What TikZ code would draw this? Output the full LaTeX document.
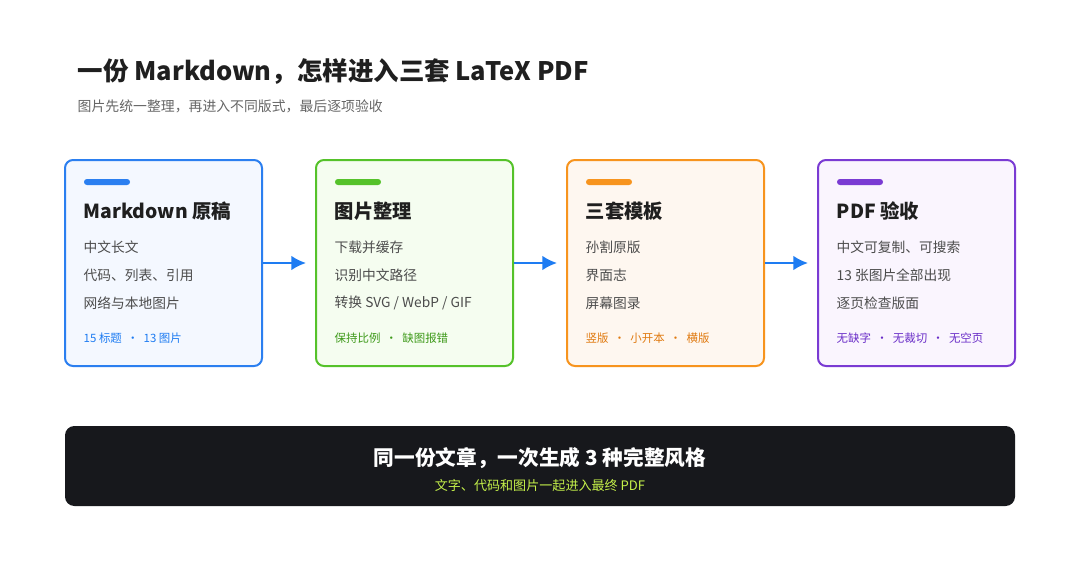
\documentclass[tikz,border=0pt]{standalone}
\usepackage{fontspec}
\usetikzlibrary{arrows.meta}
\setmainfont{Noto Sans CJK SC}
\begin{document}
\begin{tikzpicture}[x=0.75pt,y=-0.75pt,
  card/.style={draw=#1,line width=1.5pt,rounded corners=6pt},
  bar/.style={fill=#1,rounded corners=2.2pt},
  ctitle/.style={anchor=west,font=\bfseries\fontsize{14.5}{18}\selectfont,text=black!88},
  item/.style={anchor=west,font=\fontsize{10.3}{12}\selectfont,text=black!70},
  tag/.style={anchor=west,font=\fontsize{8.6}{10}\selectfont,text=#1},
  arr/.style={draw=arrowblue,line width=1.6pt,-{Latex[length=11pt,width=11pt]}}]
\definecolor{cb}{HTML}{2B7FF0}\definecolor{cbf}{HTML}{F4F8FF}
\definecolor{cg}{HTML}{55C22A}\definecolor{cgf}{HTML}{F5FDF0}
\definecolor{co}{HTML}{F7941E}\definecolor{cof}{HTML}{FEF7F0}
\definecolor{cp}{HTML}{7A3BD3}\definecolor{cpf}{HTML}{FAF5FE}
\definecolor{arrowblue}{HTML}{1E7CF2}
\definecolor{tb}{HTML}{1E7CF2}\definecolor{tg}{HTML}{3E9A1A}
\definecolor{to}{HTML}{E07A10}\definecolor{tp}{HTML}{6A2EC8}
\definecolor{bk}{HTML}{17181C}
\useasboundingbox[fill=white] (0,0) rectangle (1080,578);
\node[anchor=west,font=\bfseries\fontsize{19.1}{22}\selectfont,text=black!88] (title) at (73,72) {一份 Markdown，怎样进入三套 LaTeX PDF};
\node[anchor=west,font=\fontsize{10.4}{12}\selectfont,text=black!60] (sub) at (73,106) {图片先统一整理，再进入不同版式，最后逐项验收};
\foreach \i/\x/\c/\f/\t/\a/\b/\cc/\g/\tc in {
 1/65/cb/cbf/{Markdown 原稿}/{中文长文}/{代码、列表、引用}/{网络与本地图片}/{15 标题 \ · \ 13 图片}/tb,
 2/316/cg/cgf/{图片整理}/{下载并缓存}/{识别中文路径}/{转换 SVG / WebP / GIF}/{保持比例 \ · \ 缺图报错}/tg,
 3/567/co/cof/{三套模板}/{孙割原版}/{界面志}/{屏幕图录}/{竖版 \ · \ 小开本 \ · \ 横版}/to,
 4/818/cp/cpf/{PDF 验收}/{中文可复制、可搜索}/{13 张图片全部出现}/{逐页检查版面}/{无缺字 \ · \ 无裁切 \ · \ 无空页}/tp}{
  \draw[card=\c,fill=\f] (\x,160) rectangle ++(197,206);
  \fill[bar=\c] (\x+19,179) rectangle ++(46,6);
  \node[ctitle] (h\i) at (\x+14,211) {\t};
  \node[item] (a\i) at (\x+14,247) {\a};
  \node[item] (b\i) at (\x+14,275) {\b};
  \node[item] (d\i) at (\x+14,303) {\cc};
  \node[tag=\tc] (g\i) at (\x+14,338) {\g};
}
\coordinate (r1) at (263,263);\coordinate (l2) at (306,263);
\coordinate (r2) at (514,263);\coordinate (l3) at (557,263);
\coordinate (r3) at (765,263);\coordinate (l4) at (808,263);
\draw[arr] (r1) -- (l2);\draw[arr] (r2) -- (l3);\draw[arr] (r3) -- (l4);
\fill[bk,rounded corners=7pt] (65,426) rectangle (1015,506);
\node[font=\bfseries\fontsize{15.5}{18}\selectfont,text=white] (m) at (540,458) {同一份文章，一次生成 3 种完整风格};
\node[font=\fontsize{9.8}{11}\selectfont,text={rgb,255:red,196;green,240;blue,74}] (m2) at (540,486) {文字、代码和图片一起进入最终 PDF};
\end{tikzpicture}
\end{document}
